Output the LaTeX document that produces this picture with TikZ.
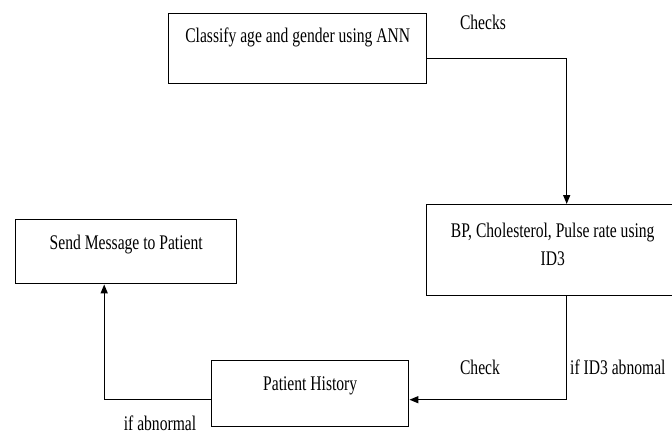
\documentclass[tikz,border=0pt]{standalone}
\usepackage{fontspec}
\setmainfont{Liberation Serif}[FakeStretch=0.75]
\usetikzlibrary{arrows.meta}
\begin{document}
\begin{tikzpicture}[x=1pt,y=-1pt,
  box/.style={draw,line width=1.4pt,rectangle,inner xsep=0pt,inner ysep=0pt,align=center,font=\fontsize{20.8}{28}\selectfont},
  lbl/.style={inner sep=0pt,font=\fontsize{20.8}{28}\selectfont},
  arr/.style={line width=1.4pt,-{Triangle[length=9pt,width=7pt]}}]
\useasboundingbox (0,0) rectangle (672,434);
\clip (0,0) rectangle (672,434);
\node[box,minimum width=258pt,text height=29pt,text depth=41pt,anchor=north west] (b1) at (168,13) {Classify age and gender using ANN};
\node[box,minimum width=252pt,text height=61pt,text depth=30pt,anchor=north west] (b2) at (426,204) {BP, Cholesterol, Pulse rate using\\ID3};
\node[box,minimum width=221pt,text height=30pt,text depth=34pt,anchor=north west] (sm) at (15,219) {Send Message to Patient};
\node[box,minimum width=197pt,text height=30pt,text depth=36pt,anchor=north west] (ph) at (211,360) {Patient History};
\draw[arr] ([yshift=-10pt]b1.east) -| ([xshift=14pt]b2.north);
\draw[arr] ([xshift=14pt]b2.south) |- ([yshift=-6pt]ph.east);
\draw[arr] ([yshift=-6pt]ph.west) -| ([xshift=-22pt]sm.south);
\node[lbl] (l1) at (483,22) {Checks};
\node[lbl] (l2) at (480,367) {Check};
\node[lbl,anchor=west] (l3) at (570,367) {if ID3 abnomal};
\node[lbl] (l4) at (160,423) {if abnormal};
\end{tikzpicture}
\end{document}
